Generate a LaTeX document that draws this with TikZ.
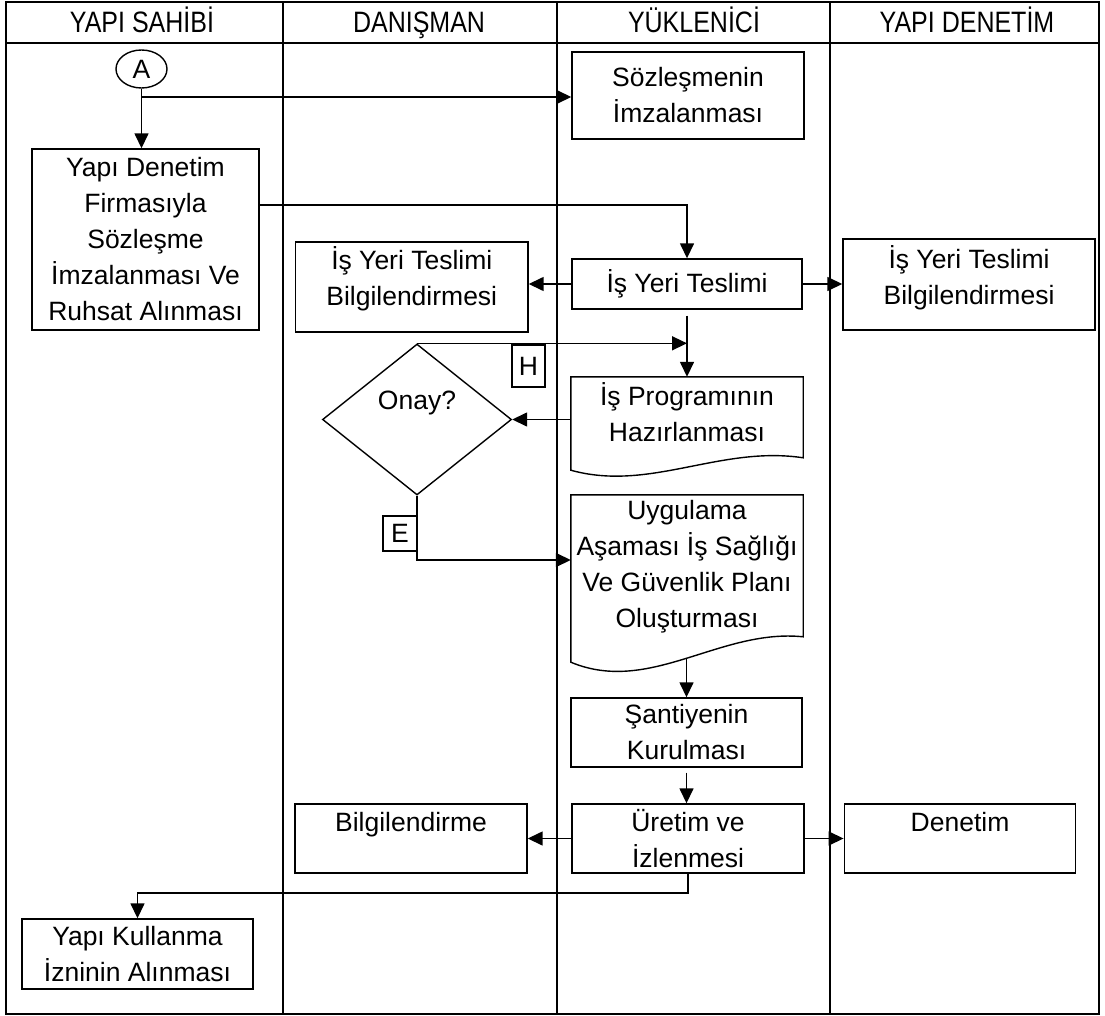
\documentclass[tikz,border=0pt]{standalone}
\usepackage{fontspec}
\usepackage{graphicx}
\setmainfont{Liberation Sans}
\usetikzlibrary{arrows.meta,shapes.geometric,calc}
\newcommand{\hdrtext}[1]{\scalebox{1}[1.18]{#1}}
\begin{document}
\begin{tikzpicture}[x=1pt,y=-1pt,
  txt/.style={font=\fontsize{26.5}{36}\selectfont, align=center, inner sep=0pt},
  hdr/.style={font=\fontsize{25}{30}\selectfont, inner sep=0pt, anchor=base},
  box/.style={draw, line width=1.4pt, rectangle, inner sep=0pt, txt},
  plain/.style={draw=none, rectangle, inner sep=0pt},
  conn/.style={line width=1.5pt},
  arr/.style={conn, -{Triangle[length=15pt,width=14pt]}},
  frame/.style={line width=2pt}]
\useasboundingbox (0,0) rectangle (1105,1016);
% frame and lanes
\draw[frame] (6,2) rectangle (1099,1014);
\draw[frame] (6,43) -- (1099,43);
\draw[frame] (282.5,2) -- (282.5,1014);
\draw[frame] (557,2) -- (557,1014);
\draw[frame] (830,2) -- (830,1014);
\node[hdr] (h1) at (142,33) {\hdrtext{YAPI SAHİBİ}};
\node[hdr] (h2) at (419,33) {\hdrtext{DANIŞMAN}};
\node[hdr] (h3) at (694,33) {\hdrtext{YÜKLENİCİ}};
\node[hdr] (h4) at (967,33) {\hdrtext{YAPI DENETİM}};
% nodes
\node[draw, ellipse, line width=1.4pt, minimum width=51pt, minimum height=38pt, inner sep=0pt, txt] (A) at (141.5,69) {A};
\node[box, minimum width=232pt, minimum height=87pt] (soz) at (688,95.5) {Sözleşmenin\\İmzalanması};
\node[box, minimum width=227pt, minimum height=181pt] (yd) at (145.5,239.5) {Yapı Denetim\\Firmasıyla\\Sözleşme\\İmzalanması Ve\\Ruhsat Alınması};
\node[box, minimum width=230pt, minimum height=50pt] (iyt) at (687,284) {İş Yeri Teslimi};
\node[box, minimum width=232.5pt, minimum height=90pt] (iytb1) at (411.75,287) {};
\node[txt] (iytb1t) at (411.75,279) {İş Yeri Teslimi\\Bilgilendirmesi};
\node[box, minimum width=252pt, minimum height=91pt] (iytb2) at (969,284.5) {};
\node[txt] (iytb2t) at (969,278) {İş Yeri Teslimi\\Bilgilendirmesi};
\node[draw, diamond, line width=1.4pt, minimum width=189pt, minimum height=151pt, inner sep=0pt] (onay) at (417,419.5) {};
\node[txt, anchor=base] (onayt) at (417,409) {Onay?};
\node[box, minimum width=33pt, minimum height=42pt] (hbox) at (528.5,366) {H};
\node[box, minimum width=34pt, minimum height=35pt] (ebox) at (400,533.5) {E};
% document shapes
\node[plain, minimum width=232pt, minimum height=93pt] (prog) at (687,423.5) {};
\node[txt] (progt) at (687,412) {İş Programının\\Hazırlanması};
\draw[line width=1.4pt] (prog.south west) -- (prog.north west) -- (prog.north east) -- ($(prog.north east)+(0,81)$)
  .. controls ($(prog.south west)+(149,-25)$) and ($(prog.south west)+(79,22)$) .. (prog.south west) -- cycle;
\node[plain, minimum width=232pt, minimum height=167pt] (uyg) at (687,578.5) {};
\node[txt] (uygt) at (687,567) {Uygulama\\Aşaması İş Sağlığı\\Ve Güvenlik Planı\\Oluşturması};
\draw[line width=1.4pt] (uyg.south west) -- (uyg.north west) -- (uyg.north east) -- ($(uyg.north east)+(0,142)$)
  .. controls ($(uyg.south west)+(149,-34)$) and ($(uyg.south west)+(79,33)$) .. (uyg.south west) coordinate[pos=0.5] (uygbot) -- cycle;
\node[box, minimum width=231pt, minimum height=69pt] (sant) at (686.5,732.5) {Şantiyenin\\Kurulması};
\node[box, minimum width=232pt, minimum height=69pt] (uret) at (688,838.5) {Üretim ve\\İzlenmesi};
\node[box, minimum width=232pt, minimum height=69pt] (bilg) at (411,838.5) {};
\node[txt, anchor=base] (bilgt) at (411,831) {Bilgilendirme};
\node[box, minimum width=231.5pt, minimum height=69pt] (den) at (960,838.5) {};
\node[txt, anchor=base] (dent) at (960,831) {Denetim};
\node[box, minimum width=231pt, minimum height=70pt] (yk) at (137.5,954) {Yapı Kullanma\\İzninin Alınması};
% connectors
\coordinate (j1) at (141.5,97);
\draw[conn] (A.south) -- (j1);
\draw[arr] (j1) -- (j1 -| soz.west);
\draw[arr] (j1) -- (j1 |- yd.north);
\coordinate (c2) at (687,205);
\draw[arr] (yd.east |- c2) -- (c2) -- (c2 |- iyt.north);
\draw[arr] (iyt.west) -- (iyt.west -| iytb1.east);
\draw[arr] (iyt.east) -- (iyt.east -| iytb2.west);
\draw[arr, shorten <=6pt] (iyt.south) -- (prog.north);
\draw[arr] (onay.north) -- (onay.north -| iyt.south);
\draw[arr] (onay.east -| prog.west) -- (onay.east);
\coordinate (c3) at (417,560);
\draw[arr] (onay.south) -- (c3) -- (c3 -| uyg.west);
\draw[arr] (sant.north |- uygbot) -- (sant.north);
\draw[arr, shorten <=5pt] (sant.south) -- (sant.south |- uret.north);
\draw[arr] (uret.west) -- (uret.west -| bilg.east);
\draw[arr] (uret.east) -- (uret.east -| den.west);
\coordinate (c4) at (686,893);
\draw[arr] (uret.south) -- (uret.south |- c4) -- (yk.north |- c4) -- (yk.north);
\end{tikzpicture}
\end{document}
